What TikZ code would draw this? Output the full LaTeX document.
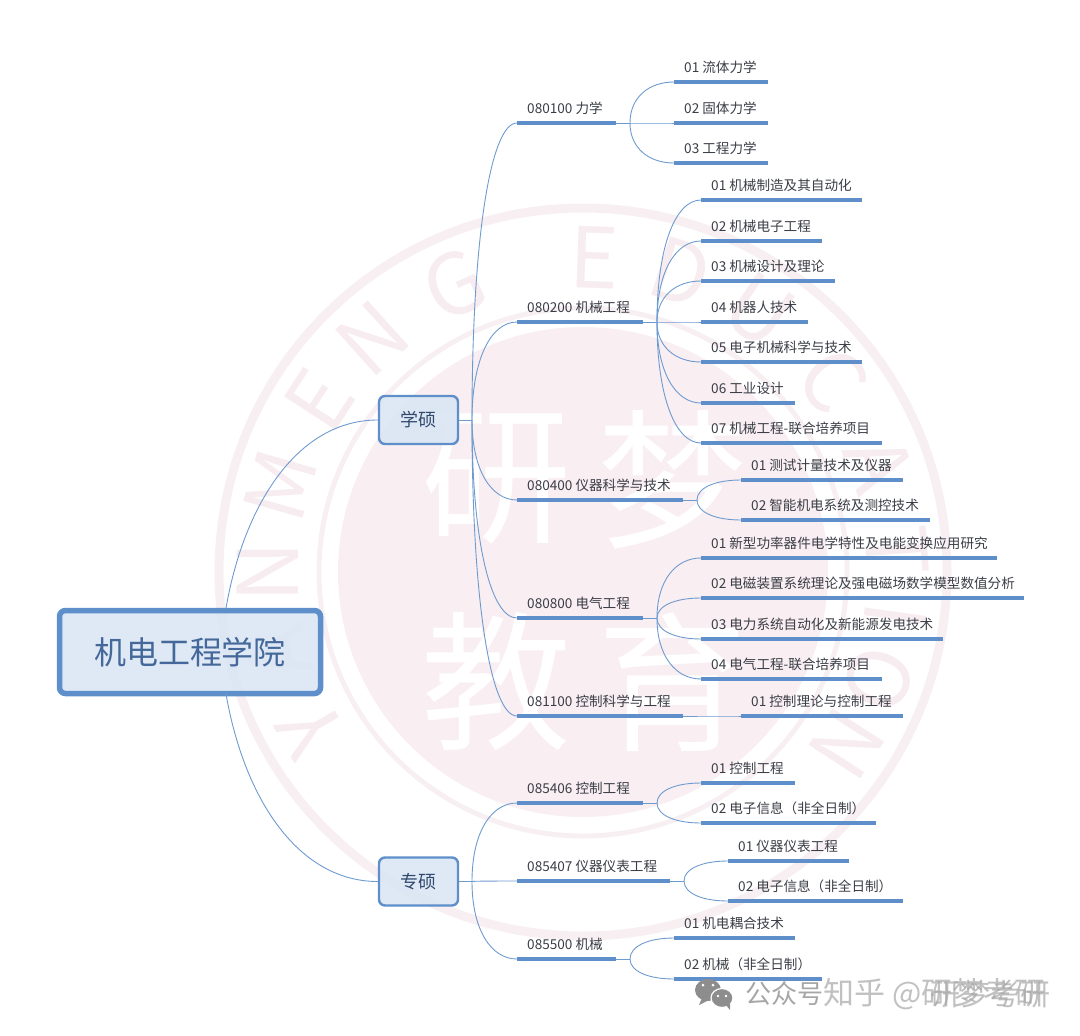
\documentclass[tikz,border=0pt]{standalone}
\usepackage{fontspec}
\setmainfont{Noto Sans CJK SC}
\usetikzlibrary{calc}
\definecolor{barblue}{HTML}{5F8FCB}
\definecolor{linkblue}{HTML}{6E9BCF}
\definecolor{boxfill}{HTML}{D9E5F4}
\definecolor{labelgrey}{HTML}{3A3D45}
\definecolor{rootink}{HTML}{44689A}
\definecolor{wmdisk}{HTML}{F9EEF1}
\definecolor{wmring}{HTML}{F7EFF1}
\definecolor{wmletter}{HTML}{F7ECEF}
\definecolor{stampgrey}{HTML}{A6A6A6}
\tikzset{
  bar/.style={draw=barblue,line width=3.2pt},
  link/.style={draw=linkblue,line width=0.9pt},
  lab/.style={anchor=west,inner sep=0pt,font=\fontsize{13.6}{14}\selectfont,text=labelgrey},
  rootbox/.style={draw=barblue,line width=5.5pt,rounded corners=6pt,fill=boxfill,fill opacity=.85,text opacity=1,
    minimum width=261pt,minimum height=83pt,font=\fontsize{32}{32}\selectfont,text=rootink},
  midbox/.style={draw=barblue,line width=2.4pt,rounded corners=6pt,fill=boxfill,fill opacity=.85,text opacity=1,
    minimum width=79pt,minimum height=48pt,font=\fontsize{18}{18}\selectfont,text=rootink!70!black},
  stamptext/.style={text=stampgrey,anchor=west,inner sep=0pt},
}
% name, x1, x2, y, text
\newcommand{\bnode}[5]{%
  \coordinate (#1-l) at (#2,#4);
  \coordinate (#1-r) at (#3,#4);
  \node[lab] (#1-t) at (#2+10,#4-15) {#5};
  \draw[bar] (#1-l) -- (#1-r);
}
% branch with its junction: name, x1, x2, y, text
\newcommand{\pnode}[5]{%
  \bnode{#1}{#2}{#3}{#4}{#5}
  \coordinate (#1-j) at (#3+14,#4);
  \draw[link] (#1-r) -- (#1-j);
}
\newcommand{\conn}[2]{%
  \draw[link] let \p1=(#1),\p2=(#2) in
    (\p1) .. controls (\x1,{\y1+0.62*(\y2-\y1)}) and ({\x1+0.42*(\x2-\x1)},\y2) .. (\p2);
}
\begin{document}
\begin{tikzpicture}[x=1pt,y=-1pt]
\useasboundingbox (0,0) rectangle (1080,1036);
% watermark
\coordinate (wc) at (583,572);
\fill[wmdisk] (wc) circle (245);
\draw[wmring,line width=5pt] (wc) circle (264);
\draw[wmring,line width=9pt] (wc) circle (364);
\foreach \ltr/\ang [count=\i] in {Y/210,A/195,N/180,M/164,E/147,N/132,G/114,E/88,D/72,U/56,C/37.5,A/20,T/4,I/-8,O/-20,N/-33}{
  \node[text=wmletter,font=\fontsize{84}{84}\selectfont,rotate=\ang-90,inner sep=0pt]
    (wm\i) at ($(wc)+({315*cos(\ang)},{-315*sin(\ang)})$) {\ltr};
}
\foreach \nm/\ch/\px/\py in {a/研/496/479,b/梦/672/480,c/教/496/682,d/育/672/682}{
  \node[text=white,font=\fontsize{150}{150}\selectfont,inner sep=0pt] (wz\nm) at (\px,\py) {\ch};
}
% hub boxes
\node[rootbox] (root) at (190,652) {机电工程学院};
\node[midbox] (xs) at (418.5,420) {学硕};
\node[midbox] (zs) at (418.5,881.5) {专硕};
\coordinate (rootT) at (226,608);
\coordinate (rootB) at (226,694);
\draw[link] (rootT) .. controls (245,500) and (300,420) .. (xs.west);
\draw[link] (rootB) .. controls (245,802) and (300,881.5) .. (zs.west);
\coordinate (xsj) at (472,420);
\coordinate (zsj) at (472,881.5);
\draw[link] (xs.east) -- (xsj);
\draw[link] (zs.east) -- (zsj);
% 080100
\pnode{a}{517}{616}{123}{080100 力学}
\bnode{a1}{674}{768}{82}{01 流体力学}
\bnode{a2}{674}{768}{123}{02 固体力学}
\bnode{a3}{674}{768}{163}{03 工程力学}
% 080200
\pnode{b}{517}{643}{322}{080200 机械工程}
\bnode{b1}{701}{862}{200}{01 机械制造及其自动化}
\bnode{b2}{701}{822}{241}{02 机械电子工程}
\bnode{b3}{701}{835}{281}{03 机械设计及理论}
\bnode{b4}{701}{808}{322}{04 机器人技术}
\bnode{b5}{701}{862}{362}{05 电子机械科学与技术}
\bnode{b6}{701}{795}{403}{06 工业设计}
\bnode{b7}{701}{882}{443}{07 机械工程-联合培养项目}
% 080400
\pnode{c}{517}{683}{500}{080400 仪器科学与技术}
\bnode{c1}{741}{903}{480}{01 测试计量技术及仪器}
\bnode{c2}{741}{930}{520}{02 智能机电系统及测控技术}
% 080800
\pnode{d}{517}{643}{618}{080800 电气工程}
\bnode{d1}{701}{997}{558}{01 新型功率器件电学特性及电能变换应用研究}
\bnode{d2}{701}{1024}{598}{02 电磁装置系统理论及强电磁场数学模型数值分析}
\bnode{d3}{701}{943}{639}{03 电力系统自动化及新能源发电技术}
\bnode{d4}{701}{882}{679}{04 电气工程-联合培养项目}
% 081100
\pnode{e}{517}{683}{716}{081100 控制科学与工程}
\bnode{e1}{741}{903}{716}{01 控制理论与控制工程}
% 085406
\pnode{f}{517}{643}{803}{085406 控制工程}
\bnode{f1}{701}{795}{783}{01 控制工程}
\bnode{f2}{701}{876}{823}{02 电子信息（非全日制）}
% 085407
\pnode{g}{517}{670}{881}{085407 仪器仪表工程}
\bnode{g1}{728}{849}{861}{01 仪器仪表工程}
\bnode{g2}{728}{903}{901}{02 电子信息（非全日制）}
% 085500
\pnode{h}{517}{616}{959}{085500 机械}
\bnode{h1}{674}{795}{938}{01 机电耦合技术}
\bnode{h2}{674}{822}{979}{02 机械（非全日制）}
% connectors
\foreach \pn in {a,b,c,d,e}{\conn{xsj}{\pn-l}}
\foreach \pn in {f,g,h}{\conn{zsj}{\pn-l}}
\foreach \pn/\cn in {a/a1,a/a2,a/a3,b/b1,b/b2,b/b3,b/b4,b/b5,b/b6,b/b7,c/c1,c/c2,d/d1,d/d2,d/d3,d/d4,e/e1,f/f1,f/f2,g/g1,g/g2,h/h1,h/h2}{\conn{\pn-j}{\cn-l}}
% stamp
\fill[stampgrey!85!black] (708,990) ellipse (13 and 11);
\fill[stampgrey!85!black] (702,998) -- (699,1005) -- (709,1000) -- cycle;
\draw[white,line width=1.2pt,fill=stampgrey!85!black] (722,998) ellipse (11 and 9.5);
\fill[stampgrey!85!black] (726,1005) -- (730,1010) -- (730,1003) -- cycle;
\fill[white] (703,985) circle (1.5) (713,985) circle (1.5) (718,996) circle (1.3) (726,996) circle (1.3);
\node[stamptext,font=\fontsize{26}{26}\selectfont] (st1) at (745,994) {公众号};
\node[stamptext,font=\fontsize{31}{31}\selectfont,opacity=.7] (st2) at (823,994) {知乎 @研梦考研};
\node[stamptext,font=\fontsize{30}{30}\selectfont,opacity=.7] (st3) at (930,994) {研梦考研};
\end{tikzpicture}
\end{document}
